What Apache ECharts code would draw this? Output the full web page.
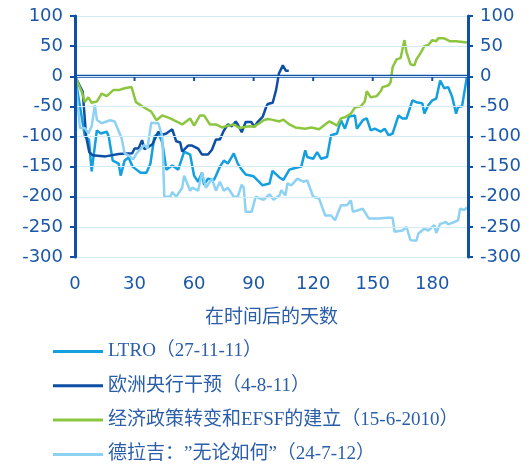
<!DOCTYPE html>
<html>
    <head>
        <meta http-equiv="Content-Type" content="text/html; charset=utf-8" />
        <title>days-after-event</title>
        <script type="text/javascript" src="https://cdn.jsdelivr.net/npm/echarts@6.0.0/dist/echarts.min.js"></script>
    </head>
    <body style="margin:0;background:#fff;">
    	<div style="width:531px;height:466px;" id="chart"></div>
        <script type="text/javascript">
			// 系列名称
			var names = ['LTRO（27-11-11）', '欧洲央行干预（4-8-11）', '经济政策转变和EFSF的建立（15-6-2010）', '德拉吉：”无论如何”（24-7-12）'];
			var colors = ['#139fe0', '#0d4fa5', '#8cc63f', '#8dd2f3'];
			var xTicks = [0, 30, 60, 90, 120, 150, 180];
			var xMax = 198;

			// [天数, 数值]
			var ltro = [[0,0],[3,-60],[5,-100],[7,-105],[8.4,-158],[11,-90],[13,-95],[16,-92],[17,-100],[19,-140],[22,-145],[23,-165],[25,-140],[27,-135],[29,-150],[33,-160],[36,-160],[38,-145],[40,-100],[42,-95],[44,-110],[46,-155],[49,-148],[52,-155],[54,-135],[55,-125],[58,-130],[60,-165],[62,-175],[64,-160],[65,-180],[67,-170],[70,-172],[71,-165],[73,-150],[75,-140],[77,-145],[80,-128],[82,-145],[84,-155],[86,-163],[90,-166],[93,-176],[94.5,-181],[98,-178],[99.5,-157],[103,-168],[105,-172],[108,-155],[110,-153],[114,-150],[116,-123],[117,-134],[120,-137],[122,-126],[124,-137],[127,-134],[129,-98],[132,-95],[134,-73],[136,-87],[138,-67],[141,-65],[142,-87],[145,-73],[147,-70],[149,-90],[151,-87],[154,-92],[156,-87],[158,-98],[160,-95],[163,-65],[165,-70],[167,-70],[170,-40],[172,-43],[175,-45],[176,-62],[178,-48],[180,-40],[182,-37],[184,-7],[186,-20],[188,-18],[190,-34],[192,-62],[193,-51],[195,-50],[197.5,0]];
			var ecb = [[0,0],[3.9,-26],[5.6,-100],[7.2,-126],[8.8,-131],[15.4,-133],[22,-129],[28.8,-128],[30,-120],[32,-120],[33.8,-106],[35,-121],[39,-113],[42,-92],[44,-97],[46,-95],[49,-88],[51,-108],[53,-110],[54,-125],[57,-115],[59,-115],[62,-120],[64,-130],[67,-130],[69,-122],[71,-105],[73,-105],[75,-90],[77,-80],[79,-83],[81,-75],[82,-80],[84,-93],[86,-76],[88.8,-76],[90.4,-84],[92,-76],[94.6,-67],[96.3,-51],[97.1,-46],[99.6,-44],[101.3,-23],[102.7,4],[104.7,18],[106.3,9],[107.7,9]];
			var efsf = [[0,0],[3.4,-26],[5,-43],[6.7,-35],[8.4,-44],[11,-42],[13.4,-29],[16,-33],[19.3,-23],[22,-23],[25,-20],[28.5,-18],[30.7,-43],[34.4,-51],[38.5,-59],[41,-73],[44,-65],[48,-70],[51,-75],[54,-80],[55,-80],[58,-70],[60,-82],[63,-65],[65,-65],[68,-80],[71,-80],[74,-85],[77,-82],[80,-80],[83,-86],[86,-84],[88,-83],[90,-84],[93,-78],[95,-73],[97,-71],[99,-72],[103,-75],[105,-72],[108,-80],[111,-85],[116,-87],[119,-85],[123,-88],[126,-80],[128,-75],[130,-78],[132,-82],[134,-70],[136,-68],[139,-62],[141,-52],[144,-50],[146,-42],[147,-25],[149,-35],[152,-33],[154,-25],[155,-18],[158,-15],[159,-10],[160,15],[162,28],[164,30],[166,60],[167,40],[169,20],[171,18],[172,28],[174,38],[176,50],[178,52],[180,60],[182,58],[183,63],[186,63],[189,58],[192,58],[197.5,56]];
			var draghi = [[0,0],[2.5,-86],[5,-86],[6.7,-95],[8.4,-83],[10,-48],[11,-72],[13.4,-78],[17.6,-73],[20,-75],[23.5,-103],[25,-128],[27.6,-133],[29.3,-138],[31,-128],[35,-114],[36.5,-120],[38.4,-77],[42,-78],[44,-100],[45,-200],[48,-200],[49,-192],[51,-200],[54,-185],[55,-165],[58,-190],[59,-185],[62,-190],[64,-160],[66,-185],[69,-170],[71,-190],[73,-175],[75,-190],[77,-185],[80,-200],[82,-200],[84,-180],[85,-185],[86,-225],[89,-225],[91,-200],[95,-205],[98,-196],[100,-205],[103,-198],[104,-189],[106,-198],[107,-178],[109,-181],[112,-170],[115,-175],[117,-173],[120,-200],[123,-203],[126,-231],[129,-231],[131,-239],[134,-214],[137,-214],[139,-206],[140,-225],[143,-222],[145,-220],[148,-236],[153,-236],[157,-235],[160,-235],[161,-258],[165,-256],[167,-250],[169,-272],[172,-273],[173,-261],[176,-253],[178,-256],[181,-247],[182,-260],[184,-245],[187,-242],[188,-246],[191,-242],[193,-239],[194,-220],[196,-222],[197.5,-218]];

			var seriesData = [ltro, ecb, efsf, draghi];
			var axisColor = '#0f4fa5';
			var labelColor = '#1c58a8';

			var myChart = echarts.init(document.getElementById('chart'));

			function yAxisOf(pos, split) {
				return {
					type: 'value',
					position: pos,
					min: -300,
					max: 100,
					interval: 50,
					axisLine: { show: true, onZero: false, lineStyle: { color: axisColor, width: 3 } },
					axisTick: { show: true, length: 5, lineStyle: { color: axisColor, width: 2 } },
					axisLabel: { color: labelColor, fontFamily: 'DejaVu Sans', fontSize: 18, margin: 12 },
					splitLine: { show: split, lineStyle: { color: '#d3ebf7', width: 1 } },
					z: 5
				};
			}

			// 零线（横轴线）和向下的刻度，用折线画出
			var zeroLine = [[0, 0], [xMax, 0]];
			var zeroTicks = [];
			xTicks.slice(1).forEach(function (t) {
				zeroTicks.push([t, 0], [t, -8], [t, null]);
			});

			var lineSeries = names.map(function (n, i) {
				return {
					name: n,
					type: 'line',
					yAxisIndex: 0,
					data: seriesData[i],
					symbol: 'none',
					color: colors[i],
					lineStyle: { width: 2.5, color: colors[i] },
					z: 3
				};
			});
			lineSeries.push({
				name: 'zeroLine',
				type: 'line',
				data: zeroLine,
				symbol: 'none',
				silent: true,
				color: axisColor,
				lineStyle: { width: 3, color: axisColor },
				z: 4
			});
			lineSeries.push({
				name: 'zeroTicks',
				type: 'line',
				data: zeroTicks,
				symbol: 'none',
				silent: true,
				connectNulls: false,
				color: axisColor,
				lineStyle: { width: 2, color: axisColor },
				z: 4
			});

			var option = {
				animation: false,
				backgroundColor: '#fff',
				grid: { left: 75, right: 63, top: 16, bottom: 209, containLabel: false, outerBoundsMode: 'none' },
				legend: {
					orient: 'vertical',
					left: 53,
					top: 342,
					padding: 0,
					icon: 'rect',
					itemWidth: 50,
					itemHeight: 3,
					itemGap: 15.3,
					data: names,
					textStyle: {
						color: '#2a5ea9',
						fontFamily: "'Liberation Serif', 'Noto Sans CJK SC'",
						fontSize: 19,
						lineHeight: 19
					}
				},
				xAxis: {
					type: 'value',
					min: 0,
					max: xMax,
					interval: 30,
					position: 'bottom',
					name: '在时间后的天数',
					nameLocation: 'middle',
					nameGap: 49,
					nameTextStyle: { color: '#2a5ea9', fontFamily: 'Noto Sans CJK SC', fontSize: 19 },
					axisLine: { show: false, onZero: false },
					axisTick: { show: false },
					splitLine: { show: false },
					axisLabel: {
						color: labelColor, fontFamily: 'DejaVu Sans', fontSize: 18, margin: 18,
						formatter: function (v) { return xTicks.indexOf(v) >= 0 ? v : ''; }
					}
				},
				yAxis: [yAxisOf('left', true), yAxisOf('right', false)],
				series: lineSeries
			};

			myChart.setOption(option);
		</script>
    </body>
</html>
